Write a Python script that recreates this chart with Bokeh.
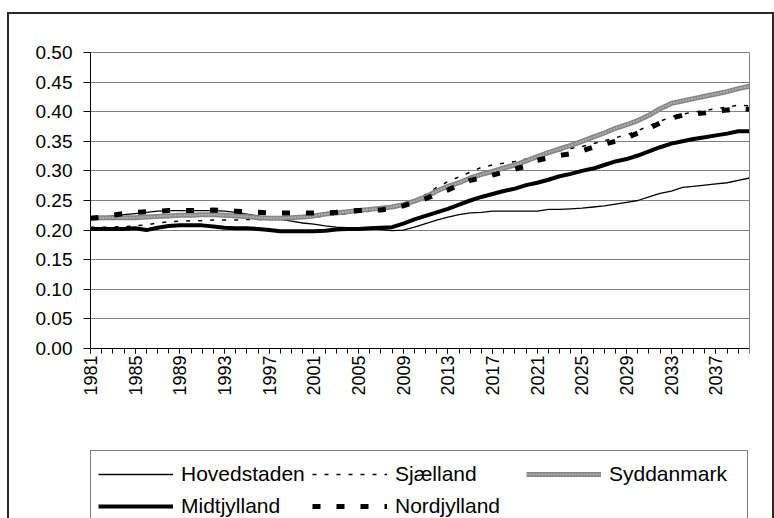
import math
from bokeh.plotting import figure
from bokeh.models import (Range1d, FixedTicker, Legend, LegendItem, LinearAxis, Grid,
                          NumeralTickFormatter, ColumnDataSource, InlineStyleSheet)
from bokeh.embed import file_html
from bokeh.resources import INLINE

years = list(range(1981, 2041))
x_tick_years = list(range(1981, 2041, 4))
y_ticks = [0.0, 0.05, 0.10, 0.15, 0.20, 0.25, 0.30, 0.35, 0.40, 0.45, 0.50]

hovedstaden = [0.220, 0.222, 0.224, 0.226, 0.228, 0.230, 0.232, 0.233, 0.233, 0.233,
               0.233, 0.233, 0.232, 0.230, 0.227, 0.224, 0.221, 0.218, 0.215, 0.212,
               0.210, 0.207, 0.205, 0.204, 0.203, 0.202, 0.201, 0.199, 0.200, 0.205,
               0.211, 0.217, 0.222, 0.226, 0.229, 0.230, 0.232, 0.232, 0.232, 0.232,
               0.232, 0.235, 0.235, 0.236, 0.237, 0.239, 0.241, 0.244, 0.247, 0.250,
               0.256, 0.262, 0.266, 0.272, 0.274, 0.276, 0.278, 0.280, 0.284, 0.288]

sjaelland = [0.205, 0.205, 0.205, 0.206, 0.207, 0.209, 0.212, 0.214, 0.215, 0.216,
             0.216, 0.217, 0.217, 0.217, 0.218, 0.218, 0.218, 0.219, 0.220, 0.221,
             0.222, 0.224, 0.226, 0.228, 0.230, 0.232, 0.235, 0.238, 0.242, 0.250,
             0.260, 0.272, 0.282, 0.290, 0.298, 0.306, 0.310, 0.313, 0.316, 0.320,
             0.326, 0.330, 0.334, 0.338, 0.341, 0.346, 0.351, 0.356, 0.361, 0.368,
             0.376, 0.384, 0.391, 0.396, 0.399, 0.402, 0.405, 0.408, 0.411, 0.410]

syddanmark = [0.220, 0.221, 0.221, 0.221, 0.221, 0.222, 0.223, 0.224, 0.225, 0.225,
              0.226, 0.226, 0.225, 0.224, 0.223, 0.221, 0.220, 0.220, 0.221, 0.222,
              0.224, 0.227, 0.229, 0.231, 0.233, 0.235, 0.237, 0.239, 0.243, 0.249,
              0.256, 0.266, 0.274, 0.280, 0.288, 0.294, 0.299, 0.305, 0.310, 0.317,
              0.324, 0.331, 0.337, 0.343, 0.350, 0.357, 0.364, 0.372, 0.378, 0.385,
              0.394, 0.405, 0.414, 0.418, 0.422, 0.426, 0.430, 0.434, 0.439, 0.443]

midtjylland = [0.202, 0.202, 0.202, 0.202, 0.203, 0.200, 0.204, 0.207, 0.208, 0.208,
               0.208, 0.206, 0.204, 0.203, 0.203, 0.202, 0.200, 0.198, 0.198, 0.198,
               0.198, 0.199, 0.201, 0.202, 0.202, 0.203, 0.204, 0.205, 0.211, 0.218,
               0.224, 0.230, 0.236, 0.243, 0.250, 0.256, 0.261, 0.266, 0.270, 0.276,
               0.280, 0.285, 0.291, 0.295, 0.300, 0.304, 0.310, 0.316, 0.320, 0.326,
               0.333, 0.340, 0.346, 0.350, 0.354, 0.357, 0.360, 0.363, 0.367, 0.367]

nordjylland = [0.220, 0.222, 0.225, 0.228, 0.230, 0.231, 0.232, 0.233, 0.233, 0.233,
               0.233, 0.234, 0.233, 0.232, 0.231, 0.230, 0.229, 0.229, 0.229, 0.229,
               0.229, 0.229, 0.230, 0.232, 0.233, 0.234, 0.234, 0.237, 0.241, 0.247,
               0.253, 0.261, 0.268, 0.276, 0.284, 0.288, 0.293, 0.298, 0.303, 0.308,
               0.318, 0.322, 0.326, 0.329, 0.334, 0.340, 0.345, 0.350, 0.356, 0.364,
               0.372, 0.381, 0.389, 0.394, 0.396, 0.398, 0.401, 0.403, 0.405, 0.404]

FONT = "Liberation Sans"

# layout geometry (pixels): the frame covers the canvas (except a right margin);
# the plot area is x 90..749 (1981..2040) and y 348..52 (0..0.5)
W, H = 774, 518
RIGHT_MARGIN = 25
AREA_LEFT, AREA_RIGHT, AREA_TOP, AREA_BOTTOM = 90, 749, 52, 348
px_per_year = (AREA_RIGHT - AREA_LEFT) / (years[-1] - years[0])
px_per_unit = (AREA_BOTTOM - AREA_TOP) / 0.5
x_lo = years[0] - AREA_LEFT / px_per_year
y_lo = -(H - AREA_BOTTOM) / px_per_unit
y_hi = 0.5 + AREA_TOP / px_per_unit

src = ColumnDataSource(dict(year=years, hov=hovedstaden, sja=sjaelland, syd=syddanmark,
                            mid=midtjylland, nor=nordjylland))

p = figure(width=W, height=H, output_backend="svg", toolbar_location=None,
           x_range=Range1d(x_lo, years[-1]), y_range=Range1d(y_lo, y_hi),
           x_axis_type=None, y_axis_type=None,
           min_border_left=0, min_border_right=RIGHT_MARGIN, min_border_top=0,
           min_border_bottom=0)
p.background_fill_color = "white"
p.border_fill_color = "white"
p.outline_line_color = None

# outer chart border (decorative frame around the whole chart)
p.stylesheets = [InlineStyleSheet(css="""
:host { position: relative; }
:host::after {
  content: ""; position: absolute; left: 7px; top: 12px; right: 0px; bottom: 0px;
  border: 2px solid #2a2a2a; border-bottom: none; pointer-events: none;
}
""")]

# horizontal grid lines, under the data
grid = Grid(dimension=1, ticker=FixedTicker(ticks=y_ticks), bounds=(0, 0.5),
            grid_line_color="#808080", grid_line_width=1)
if "cross_bounds" in grid.properties():
    grid.cross_bounds = (years[0], years[-1])
p.add_layout(grid)

# x axis sits at y = 0
xa = LinearAxis(fixed_location=0, bounds=(years[0], years[-1]))
xa.ticker = FixedTicker(ticks=x_tick_years, minor_ticks=years)
xa.major_label_orientation = math.pi / 2
xa.major_tick_out = 5
xa.major_tick_in = 0
xa.minor_tick_out = 5
xa.minor_tick_in = 0
xa.major_label_standoff = 2
xa.major_label_text_font = FONT
xa.major_label_text_font_size = "18px"
xa.major_label_text_color = "black"
xa.axis_line_color = "black"
xa.major_tick_line_color = "black"
xa.minor_tick_line_color = "black"
p.add_layout(xa, "below")

# y axis sits at x = 1981
ya = LinearAxis(fixed_location=years[0], bounds=(0, 0.5))
ya.ticker = FixedTicker(ticks=y_ticks)
ya.formatter = NumeralTickFormatter(format="0.00")
ya.major_tick_out = 7
ya.major_tick_in = 0
ya.minor_tick_line_color = None
ya.major_label_standoff = 11
ya.major_label_text_font = FONT
ya.major_label_text_font_size = "19px"
ya.major_label_text_color = "black"
ya.axis_line_color = "black"
ya.major_tick_line_color = "black"
p.add_layout(ya, "left")

# right edge of the plot area
ra = LinearAxis(bounds=(0, 0.5), ticker=FixedTicker(ticks=[]))
ra.axis_line_color = "#808080"
ra.major_tick_line_color = None
ra.minor_tick_line_color = None
p.add_layout(ra, "right")

# series (drawn in Excel order)
r_hov = p.line("year", "hov", source=src, line_color="black", line_width=1.3)
r_sja = p.line("year", "sja", source=src, line_color="black", line_width=1.5, line_dash="4 8")
r_syd1 = p.line("year", "syd", source=src, line_color="#858585", line_width=5)
r_syd2 = p.line("year", "syd", source=src, line_color="#b0b0b0", line_width=2, line_dash="2 1")
r_mid = p.line("year", "mid", source=src, line_color="black", line_width=4)
r_nor = p.line("year", "nor", source=src, line_color="black", line_width=5, line_dash="8 16")

legend = Legend(items=[
    LegendItem(label="Hovedstaden", renderers=[r_hov]),
    LegendItem(label="Sjælland", renderers=[r_sja]),
    LegendItem(label="Syddanmark", renderers=[r_syd1, r_syd2]),
    LegendItem(label="Midtjylland", renderers=[r_mid]),
    LegendItem(label="Nordjylland", renderers=[r_nor]),
], orientation="horizontal", ncols=3, location=(AREA_LEFT, -12))
legend.label_text_font = FONT
legend.label_text_font_size = "21px"
legend.label_text_color = "black"
legend.glyph_width = 75
legend.glyph_height = 32
legend.label_height = 32
legend.label_width = 131
legend.label_standoff = 8
legend.spacing = 0
legend.padding = 7
legend.margin = 0
legend.border_line_color = "black"
legend.border_line_width = 1
legend.background_fill_color = "white"
legend.background_fill_alpha = 1
p.add_layout(legend, "center")

open("out.html", "w").write(file_html(p, INLINE))
